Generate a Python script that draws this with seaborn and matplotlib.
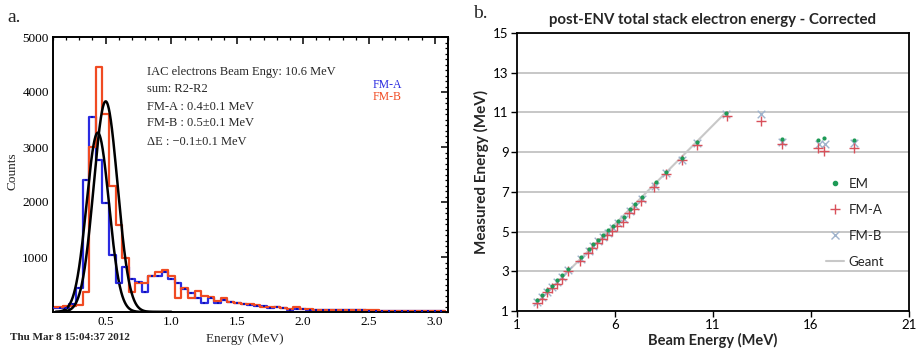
import matplotlib
matplotlib.use("Agg")
import numpy as np
import pandas as pd
import matplotlib.pyplot as plt
import seaborn as sns
from matplotlib.ticker import FixedLocator, MultipleLocator
from matplotlib.lines import Line2D

# ---------------- data: panel a (histograms) ----------------
energy_bins = [0.10, 0.15, 0.20, 0.25, 0.30, 0.35, 0.40, 0.45, 0.50, 0.55,
               0.60, 0.65, 0.70, 0.75, 0.80, 0.85, 0.90, 0.95, 1.00, 1.05,
               1.10, 1.15, 1.20, 1.25, 1.30, 1.35, 1.40, 1.45, 1.50, 1.55,
               1.60, 1.65, 1.70, 1.75, 1.80, 1.85, 1.90, 1.95, 2.00, 2.05,
               2.10, 2.15, 2.20, 2.25, 2.30, 2.35, 2.40, 2.45, 2.50, 2.55,
               2.60, 2.65, 2.70, 2.75, 2.80, 2.85, 2.90, 2.95, 3.00, 3.05]
counts_fma = [70, 70, 80, 150, 440, 2400, 3550, 2760, 1980, 1040,
              520, 820, 600, 550, 370, 650, 650, 730, 600, 520,
              420, 340, 260, 160, 260, 170, 210, 190, 170, 150,
              130, 110, 110, 80, 90, 70, 40, 50, 50, 45,
              40, 40, 35, 35, 30, 30, 30, 30, 25, 25,
              25, 25, 25, 20, 20, 20, 20, 15, 15, 15]
counts_fmb = [90, 100, 110, 110, 130, 370, 3000, 4450, 3600, 2290,
              1580, 990, 370, 530, 530, 660, 720, 770, 660, 250,
              440, 250, 380, 300, 280, 200, 250, 180, 170, 150,
              150, 120, 100, 100, 90, 80, 60, 90, 60, 50,
              45, 40, 40, 35, 35, 35, 30, 30, 30, 30,
              25, 25, 25, 25, 25, 20, 20, 20, 20, 20]
# gaussian fits: amplitude, mean, sigma
fit_fma = [3260, 0.44, 0.085]
fit_fmb = [3830, 0.50, 0.090]

x_ticks_a = [0.5, 1.0, 1.5, 2.0, 2.5, 3.0]
y_ticks_a = [1000, 2000, 3000, 4000, 5000]

# ---------------- data: panel b (energy linearity) ----------------
em_beam = [2.0, 2.3, 2.55, 2.8, 3.05, 3.3, 3.6, 4.25, 4.65, 4.9, 5.15, 5.4, 5.65,
           5.9, 6.15, 6.45, 6.75, 7.0, 7.4, 8.1, 8.6, 9.4, 10.2, 11.65, 14.5,
           16.35, 16.65, 18.2]
em_meas = [1.55, 1.8, 2.06, 2.28, 2.54, 2.81, 3.12, 3.74, 4.1, 4.35, 4.6, 4.83, 5.06,
           5.28, 5.55, 5.75, 6.15, 6.4, 6.72, 7.5, 8.02, 8.68, 9.52, 10.98, 9.65,
           9.61, 9.73, 9.62]
fma_beam = [2.0, 2.3, 2.55, 2.8, 3.05, 3.3, 3.6, 4.2, 4.6, 4.85, 5.1, 5.35, 5.6,
            5.85, 6.1, 6.4, 6.7, 6.95, 7.35, 8.0, 8.6, 9.4, 10.2, 11.7, 13.45,
            14.5, 16.35, 16.65, 18.2]
fma_meas = [1.38, 1.62, 1.95, 2.15, 2.38, 2.62, 3.0, 3.5, 3.92, 4.15, 4.42, 4.62, 4.85,
            5.05, 5.3, 5.5, 5.92, 6.15, 6.55, 7.25, 7.88, 8.58, 9.38, 10.8, 10.55,
            9.4, 9.22, 9.08, 9.22]
fmb_beam = [2.0, 2.3, 2.55, 2.8, 3.05, 3.3, 3.6, 4.25, 4.65, 4.9, 5.15, 5.4, 5.65,
            5.9, 6.15, 6.45, 6.75, 7.0, 7.4, 8.05, 8.6, 9.4, 10.2, 11.65, 13.45,
            14.5, 16.4, 16.7, 18.2]
fmb_meas = [1.45, 1.7, 1.98, 2.2, 2.45, 2.72, 3.05, 3.62, 4.0, 4.25, 4.5, 4.72, 4.95,
            5.18, 5.45, 5.65, 6.05, 6.3, 6.62, 7.28, 7.95, 8.62, 9.45, 10.9, 10.9,
            9.5, 9.4, 9.4, 9.45]
geant_beam = [1.9, 11.65]
geant_meas = [1.3, 11.0]

x_ticks_b = [1, 6, 11, 16, 21]
y_ticks_b = [1, 3, 5, 7, 9, 11, 13, 15]

# ---------------- style ----------------
sns.set_theme(style="white")
SERIF = ['Liberation Serif', 'DejaVu Serif']
SANS = ['Lato', 'DejaVu Sans']
plt.rcParams['font.family'] = SERIF

BLUE = '#2a2ae0'
RED = '#f04a22'

W, H = 920, 350
fig = plt.figure(figsize=(W / 100, H / 100), dpi=100)


def rect(l, t, r, b):
    return [l / W, 1 - b / H, (r - l) / W, (b - t) / H]


# ================= panel a =================
axA = fig.add_axes(rect(53, 37, 448, 312))
df_a = pd.DataFrame({'energy': energy_bins, 'FM-A': counts_fma, 'FM-B': counts_fmb})
sns.histplot(data=df_a, x='energy', weights='FM-A', binwidth=0.05, binrange=(0.075, 3.075),
             element='step', fill=False, color=BLUE, linewidth=1.6, ax=axA)
sns.scatterplot(data=df_a, x='energy', y='FM-A', marker='s', s=3, color='#1010b0',
                linewidth=0, ax=axA, zorder=3)
sns.histplot(data=df_a, x='energy', weights='FM-B', binwidth=0.05, binrange=(0.075, 3.075),
             element='step', fill=False, color=RED, linewidth=1.6, ax=axA)
xs = np.linspace(0.12, 1.0, 400)
for amp, mu, sig in (fit_fma, fit_fmb):
    sns.lineplot(x=xs, y=amp * np.exp(-(xs - mu) ** 2 / (2 * sig ** 2)),
                 color='black', linewidth=1.8, ax=axA)

axA.set_xlim(0.1, 3.1)
axA.set_ylim(0, 5000)
axA.xaxis.set_major_locator(FixedLocator(x_ticks_a))
axA.xaxis.set_minor_locator(MultipleLocator(0.1))
axA.yaxis.set_major_locator(FixedLocator(y_ticks_a))
axA.yaxis.set_minor_locator(MultipleLocator(100))
axA.set_xticklabels([f"{v:.1f}" for v in x_ticks_a])
axA.set_yticklabels([str(v) for v in y_ticks_a])
axA.tick_params(which='both', direction='in', top=True, right=True, colors='black',
                labelsize=9.5, pad=3)
axA.tick_params(which='major', length=5, width=1.1)
axA.tick_params(which='minor', length=2.5, width=0.9)
for s in axA.spines.values():
    s.set_color('black')
    s.set_linewidth(1.4)
axA.set_xlabel('')
axA.set_ylabel('')

fig.text(13 / W, 1 - 171 / H, 'Counts', rotation=90, fontsize=9.5, ha='center', va='center')
fig.text(245 / W, 1 - 339 / H, 'Energy (MeV)', fontsize=9.5, ha='center', va='center')
fig.text(10 / W, 1 - 337 / H, 'Thu Mar 8 15:04:37 2012', fontsize=8, fontweight='bold',
         ha='left', va='center')
fig.text(7 / W, 1 - 17 / H, 'a.', fontsize=14, ha='left', va='center')

ann = ['IAC electrons Beam Engy: 10.6 MeV', 'sum: R2-R2', 'FM-A : 0.4\u00b10.1 MeV',
       'FM-B : 0.5\u00b10.1 MeV', '\u0394E : \u22120.1\u00b10.1 MeV']
ann_y = [72, 89, 107, 123, 142]
for txt, yy in zip(ann, ann_y):
    fig.text(147 / W, 1 - yy / H, txt, fontsize=9, ha='left', va='center')
fig.text(373 / W, 1 - 85 / H, 'FM-A', fontsize=8.5, color=BLUE, ha='left', va='center')
fig.text(373 / W, 1 - 97 / H, 'FM-B', fontsize=8.5, color=RED, ha='left', va='center')

# ================= panel b =================
axB = fig.add_axes(rect(517, 33, 909, 311))
GREEN = '#1e9a56'
PINK = '#d8505a'
LBLUE = '#9fb3cc'
GREY = '#c8c8c8'

sns.lineplot(x=geant_beam, y=geant_meas, color=GREY, linewidth=1.5, ax=axB, zorder=2)
sns.scatterplot(x=fmb_beam, y=fmb_meas, marker='x', s=30, color=LBLUE, linewidth=1.0,
                ax=axB, zorder=3)
sns.scatterplot(x=fma_beam, y=fma_meas, marker='+', s=45, color=PINK, linewidth=1.0,
                ax=axB, zorder=4)
sns.scatterplot(x=em_beam, y=em_meas, marker='o', s=9, color=GREEN, linewidth=0,
                ax=axB, zorder=5)

axB.set_xlim(1, 21)
axB.set_ylim(1, 15)
axB.xaxis.set_major_locator(FixedLocator(x_ticks_b))
axB.yaxis.set_major_locator(FixedLocator(y_ticks_b))
axB.set_xticklabels([str(v) for v in x_ticks_b])
axB.set_yticklabels([str(v) for v in y_ticks_b])
axB.grid(axis='y', color='#bdbdbd', linewidth=1.2)
axB.grid(axis='x', visible=False)
axB.set_axisbelow(True)
axB.tick_params(which='major', direction='out', length=4, width=1, colors='black',
                labelsize=9.5, pad=2, bottom=True, left=True)
for lbl in axB.get_xticklabels() + axB.get_yticklabels():
    lbl.set_fontfamily(SANS)
for s in axB.spines.values():
    s.set_color('black')
    s.set_linewidth(1.3)
axB.set_xlabel('Beam Energy (MeV)', fontsize=10.5, fontweight='bold', family=SANS, labelpad=1)
axB.set_ylabel('Measured Energy (MeV)', fontsize=11, fontweight='bold', family=SANS, labelpad=3)
fig.text(713 / W, 1 - 20 / H, 'post-ENV total stack electron energy - Corrected',
         fontsize=10.8, fontweight='bold', family=SANS, ha='center', va='center')
fig.text(473 / W, 1 - 14 / H, 'b.', fontsize=14, ha='left', va='center')

handles = [
    Line2D([], [], linestyle='none', marker='o', markersize=3, color=GREEN),
    Line2D([], [], linestyle='none', marker='+', markersize=7, markeredgewidth=1.0, color=PINK),
    Line2D([], [], linestyle='none', marker='x', markersize=6, markeredgewidth=1.0, color=LBLUE),
    Line2D([], [], color=GREY, linewidth=1.5),
]
labels = ['EM', 'FM-A', 'FM-B', 'Geant']
leg = fig.legend(handles, labels, loc='upper left', bbox_to_anchor=(826 / W, 1 - 178 / H),
                 frameon=False, fontsize=9.5, handlelength=1.4, handletextpad=0.3,
                 labelspacing=1.05, borderpad=0, borderaxespad=0)
for t in leg.get_texts():
    t.set_fontfamily(SANS)

fig.savefig('out.png', dpi=100)
